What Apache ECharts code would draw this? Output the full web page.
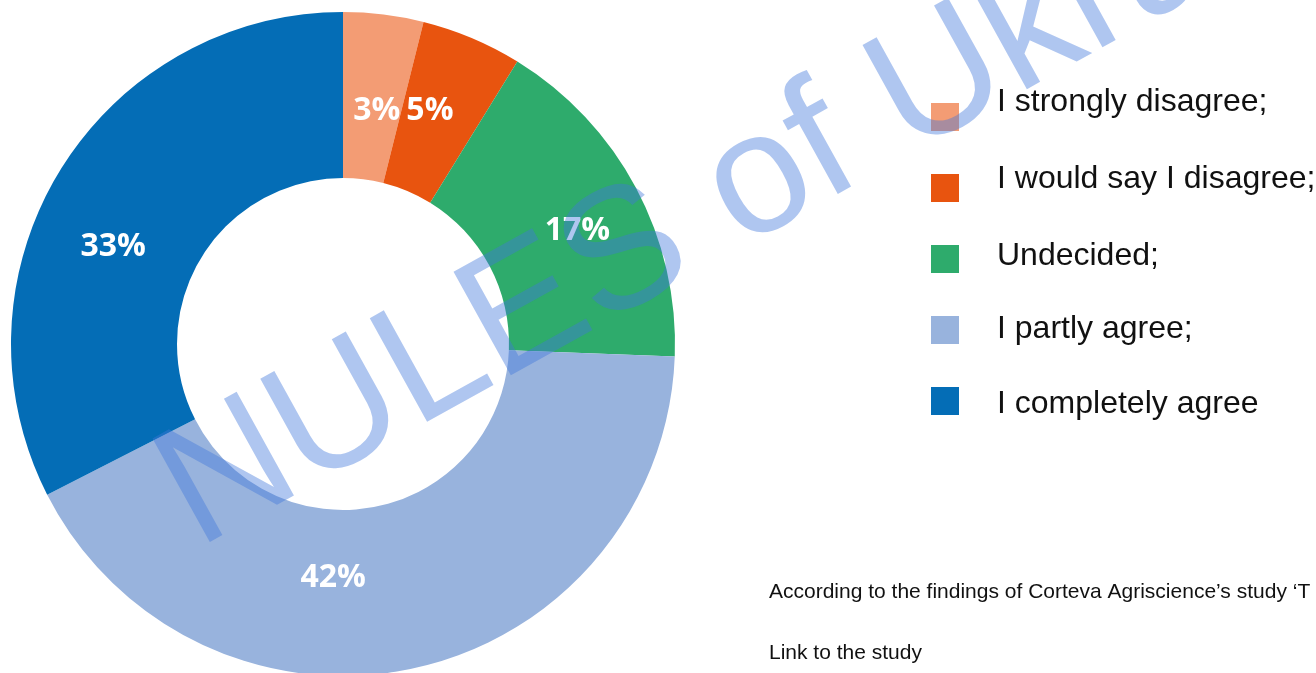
<!DOCTYPE html>
<html>
<head>
<meta charset="utf-8">
<style>
  html, body { margin: 0; padding: 0; background: #ffffff; }
  #chart { width: 1316px; height: 673px; }
</style>
<script src="https://cdn.jsdelivr.net/npm/echarts@6/dist/echarts.min.js"></script>
</head>
<body>
<div id="chart"></div>
<script>
// ---- data ----
const categories = [
  'I strongly disagree;',
  'I would say I disagree;',
  'Undecided;',
  'I partly agree;',
  'I completely agree'
];
const shares = [3.9, 4.9, 16.8, 41.9, 32.5];
const labelTexts = ['3%', '5%', '17%', '42%', '33%'];

// ---- styling ----
const colors = ['#F39C74', '#E8540F', '#2EAB6C', '#98B3DD', '#046DB6'];
const labelOffsets = [[3, 17], [-11, -1], [12, 6], [-64, -12], [-15, 35]];
const legendShift = [-14.7, -8.4, -2.7, -0.7, 3.6];

const chart = echarts.init(document.getElementById('chart'), null, { renderer: 'canvas' });

const pieData = categories.map((name, i) => ({
  name: name,
  value: shares[i],
  itemStyle: { color: colors[i] },
  label: { offset: labelOffsets[i] }
}));

const legendRich = {};
legendShift.forEach((d, i) => {
  legendRich['t' + i] = {
    fontFamily: '"Liberation Sans", Arial, sans-serif',
    fontSize: 32,
    lineHeight: 32,
    color: '#111111',
    padding: [19 + d, 0, 19 - d, 0]
  };
});

const wmAngle = 29 * Math.PI / 180;
const wmFont = 172;
const wmX = 202, wmY = 557;

chart.setOption({
  animation: false,
  backgroundColor: '#ffffff',
  legend: {
    orient: 'vertical',
    left: 931,
    top: 82,
    padding: 0,
    itemGap: 1,
    itemWidth: 28,
    itemHeight: 28,
    icon: 'rect',
    selectedMode: false,
    data: categories,
    formatter: function (name) {
      return '{t' + categories.indexOf(name) + '|' + name + '}';
    },
    textStyle: {
      fontFamily: '"Liberation Sans", Arial, sans-serif',
      fontSize: 32,
      lineHeight: 32,
      color: '#111111',
      padding: [0, 0, 0, 33],
      rich: legendRich
    }
  },
  series: [{
    type: 'pie',
    center: [343, 344],
    radius: [166, 332],
    startAngle: 90,
    clockwise: true,
    avoidLabelOverlap: false,
    silent: true,
    itemStyle: { borderWidth: 0 },
    label: {
      show: true,
      position: 'inside',
      color: '#ffffff',
      fontFamily: '"Open Sans", sans-serif',
      fontWeight: 'bold',
      fontSize: 32,
      formatter: function (p) { return labelTexts[p.dataIndex]; }
    },
    labelLine: { show: false },
    emphasis: { disabled: true },
    data: pieData
  }],
  graphic: [
    {
      type: 'text',
      z: 100,
      silent: true,
      x: wmX - 0.33 * wmFont * Math.sin(wmAngle),
      y: wmY - 0.33 * wmFont * Math.cos(wmAngle),
      rotation: wmAngle,
      style: {
        text: 'NULES of Ukraine',
        font: wmFont + 'px "Liberation Sans", Arial, sans-serif',
        fill: 'rgba(64,120,220,0.42)',
        align: 'left',
        verticalAlign: 'middle'
      }
    },
    {
      type: 'text',
      left: 769,
      top: 582,
      silent: true,
      style: {
        text: 'According to the findings of Corteva Agriscience\u2019s study \u2018T',
        font: '21px "Liberation Sans", Arial, sans-serif',
        fill: '#111111'
      }
    },
    {
      type: 'text',
      left: 769,
      top: 643,
      silent: true,
      style: {
        text: 'Link to the study',
        font: '21px "Liberation Sans", Arial, sans-serif',
        fill: '#111111'
      }
    }
  ]
});
</script>
</body>
</html>
